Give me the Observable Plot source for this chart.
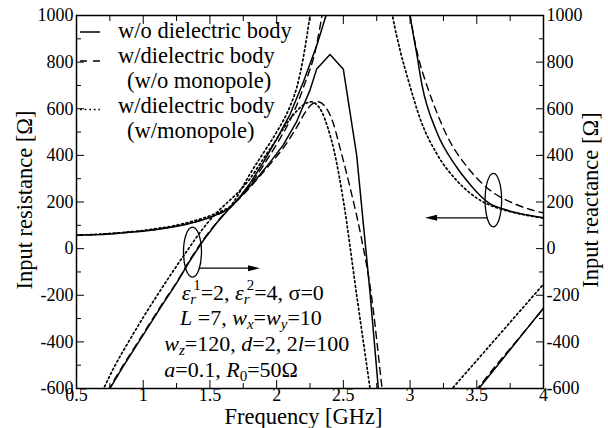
<!DOCTYPE html>
<html>
<head>
<meta charset="utf-8">
<script src="https://cdn.jsdelivr.net/npm/d3@7"></script>
<script src="https://cdn.jsdelivr.net/npm/@observablehq/plot@0.6"></script>
<style>
  html, body { margin: 0; padding: 0; background: #fff; }
  #chart { width: 608px; height: 428px; }
</style>
</head>
<body>
<div id="chart"></div>
<script>
// ---------- axis ticks ----------
const xTicks = [0.5, 1, 1.5, 2, 2.5, 3, 3.5, 4];
const xTickLabels = ["0.5", "1", "1.5", "2", "2.5", "3", "3.5", "4"];
const xMinor = [0.75, 1.25, 1.75, 2.25, 2.75, 3.25, 3.75];
const yTicks = [-600, -400, -200, 0, 200, 400, 600, 800, 1000];
const yTickLabels = ["-600", "-400", "-200", "0", "200", "400", "600", "800", "1000"];
const yMinor = [-500, -300, -100, 100, 300, 500, 700, 900];

// ---------- Input resistance (left axis) [GHz, Ohm] ----------
const resSolidA = [[0.5,57],[0.6,59],[0.7,61],[0.8,65],[0.9,70],[1.0,75],[1.1,82],[1.2,91],[1.3,101],[1.4,115],[1.5,133],[1.6,158],[1.65,175],[1.7,205],[1.8,280],[1.9,370],[2.0,470],[2.1,575],[2.2,715],[2.3,870],[2.37,1000],[2.42,1120]];
const resDashedA = [[0.5,57],[0.6,59],[0.7,62],[0.8,66],[0.9,71],[1.0,76],[1.1,83],[1.2,92],[1.3,102],[1.4,116],[1.5,134],[1.6,158],[1.65,176],[1.7,203],[1.8,272],[1.9,356],[2.0,448],[2.1,550],[2.2,690],[2.3,875],[2.34,1000],[2.38,1130]];
const resDottedA = [[0.5,58],[0.6,60],[0.7,63],[0.8,67],[0.9,72],[1.0,78],[1.1,86],[1.2,95],[1.3,107],[1.4,122],[1.5,141],[1.6,165],[1.65,180],[1.7,220],[1.75,270],[1.8,320],[1.9,410],[2.0,500],[2.1,610],[2.15,690],[2.2,820],[2.25,1000],[2.28,1120]];
const resSolidB = [[2.97,1120],[3.0,1000],[3.05,835],[3.09,700],[3.2,500],[3.35,349],[3.45,275],[3.53,225],[3.6,192],[3.7,170],[3.78,156],[3.9,142],[4.0,132]];
const resDashedB = [[2.97,1110],[3.0,1000],[3.05,850],[3.13,693],[3.2,585],[3.28,480],[3.43,349],[3.6,250],[3.78,193],[3.9,168],[4.0,153]];
const resDottedB = [[2.84,1090],[2.87,994],[2.93,840],[2.98,736],[3.08,550],[3.2,407],[3.35,292],[3.53,206],[3.65,175],[3.8,152],[4.0,131]];

// ---------- Input reactance (right axis) [GHz, Ohm] ----------
const reaSolidA = [[0.74,-610],[0.85,-505],[0.95,-415],[1.05,-325],[1.15,-235],[1.25,-148],[1.35,-52],[1.45,35],[1.55,110],[1.65,175],[1.75,235],[1.85,300],[1.95,370],[2.05,445],[2.15,545],[2.25,680],[2.3,770],[2.4,833],[2.5,769],[2.6,400],[2.7,-190],[2.8,-850]];
const reaDashedA = [[0.735,-610],[0.85,-500],[0.95,-410],[1.05,-320],[1.15,-230],[1.25,-145],[1.35,-48],[1.45,38],[1.55,112],[1.65,176],[1.75,232],[1.85,295],[1.95,362],[2.05,432],[2.15,520],[2.22,590],[2.27,622],[2.31,630],[2.36,612],[2.42,545],[2.48,421],[2.55,263],[2.63,60],[2.71,-200],[2.79,-600],[2.81,-700]];
const reaDottedA = [[0.695,-610],[0.79,-500],[0.89,-400],[1.0,-295],[1.105,-200],[1.22,-100],[1.34,0],[1.44,80],[1.54,148],[1.62,192],[1.7,235],[1.8,300],[1.9,385],[2.0,470],[2.08,540],[2.15,590],[2.21,620],[2.26,630],[2.3,618],[2.34,585],[2.38,525],[2.43,421],[2.5,206],[2.6,-200],[2.7,-600],[2.72,-680]];
const reaSolidB = [[3.5,-611],[3.6,-540],[3.7,-469],[3.8,-397],[3.9,-326],[4.0,-255]];
const reaDashedB = [[3.49,-612],[3.6,-532],[3.7,-462],[3.8,-395],[3.9,-326],[4.0,-256]];
const reaDottedB = [[3.3,-611],[3.4,-545],[3.5,-480],[3.6,-414],[3.7,-349],[3.8,-283],[3.9,-218],[4.0,-152]];

// ---------- text ----------
const legendLabels = ["w/o dielectric body", "w/dielectric body", "(w/o monopole)", "w/dielectric body", "(w/monopole)"];
const xTitle = "Frequency [GHz]";
const yLeftTitle = "Input resistance [Ω]";
const yRightTitle = "Input reactance [Ω]";

// ---------- build table ----------
const seriesList = [
  ["res-solid-a", "solid", "linear", resSolidA], ["res-dashed-a", "dashed", "monotone-x", resDashedA], ["res-dotted-a", "dotted", "monotone-x", resDottedA],
  ["res-solid-b", "solid", "monotone-x", resSolidB], ["res-dashed-b", "dashed", "monotone-x", resDashedB], ["res-dotted-b", "dotted", "monotone-x", resDottedB],
  ["rea-solid-a", "solid", "linear", reaSolidA], ["rea-dashed-a", "dashed", "monotone-x", reaDashedA], ["rea-dotted-a", "dotted", "monotone-x", reaDottedA],
  ["rea-solid-b", "solid", "linear", reaSolidB], ["rea-dashed-b", "dashed", "linear", reaDashedB], ["rea-dotted-b", "dotted", "linear", reaDottedB]
];
const dashOf = {solid: null, dashed: "7,5", dotted: "1.8,2.8"};
const widthOf = {solid: 1.5, dashed: 1.4, dotted: 1.7};

const lineMarks = seriesList.map(([id, style, curve, pts]) =>
  Plot.line(pts.map(([f, v]) => ({f, v, id})), {
    x: "f", y: "v", curve, stroke: "black",
    strokeWidth: widthOf[style], strokeDasharray: dashOf[style], clip: true
  })
);

const SERIF = "Liberation Serif";

function richText(g, px, py, segs, size) {
  const t = g.append("text").attr("x", px).attr("y", py)
    .attr("text-anchor", "start")
    .attr("font-size", size).attr("font-family", SERIF).attr("fill", "black");
  let shift = 0;
  for (const s of segs) {
    const sp = t.append("tspan").text(s.t);
    if (s.i) sp.attr("font-style", "italic");
    const target = s.sub ? 4 : s.sup ? -10 : 0;
    if (target !== shift) { sp.attr("dy", target - shift); shift = target; }
    if (s.sub || s.sup) sp.attr("font-size", Math.round(size * 0.68));
    if (s.dx) sp.attr("dx", s.dx);
  }
}

const annotLines = [
  {f: 1.292, v: -223, segs: [{t:"ε",i:1},{t:"r",i:1,sub:1},{t:"1",sup:1,dx:-3},{t:"=2, "},{t:"ε",i:1},{t:"r",i:1,sub:1},{t:"2",sup:1,dx:-3},{t:"=4, σ=0"}]},
  {f: 1.280, v: -331, segs: [{t:"L",i:1},{t:" =7, "},{t:"w",i:1},{t:"x",i:1,sub:1},{t:"="},{t:"w",i:1},{t:"y",i:1,sub:1},{t:"=10"}]},
  {f: 1.162, v: -442, segs: [{t:"w",i:1},{t:"z",i:1,sub:1},{t:"=120, "},{t:"d",i:1},{t:"=2, 2"},{t:"l",i:1},{t:"=100"}]},
  {f: 1.162, v: -554, segs: [{t:"a",i:1},{t:"=0.1, "},{t:"R",i:1},{t:"0",sub:1},{t:"=50Ω"}]}
];
const ellipses = [ {f: 1.373, v: -17, rf: 0.0675, rv: 107}, {f: 3.628, v: 206, rf: 0.062, rv: 115} ];
const arrows = [ {f1: 1.42, f2: 1.879, v: -86}, {f1: 3.581, f2: 3.116, v: 130} ];

function overlay(index, scales, values, dims) {
  const x = scales.x, y = scales.y;
  const g = d3.create("svg:g").attr("text-anchor", "start");
  const L = dims.marginLeft;
  const fsLegend = 22.5, fsNote = 22, fsTitle = 22.5;
  // legend samples
  const samples = [["solid", 32], ["dashed", 61], ["dotted", 109.5]];
  for (const [st, yy] of samples) {
    g.append("line").attr("x1", L + 4).attr("x2", L + 24).attr("y1", yy).attr("y2", yy)
      .attr("stroke", "black").attr("stroke-width", widthOf[st])
      .attr("stroke-dasharray", dashOf[st] === null ? null : (st === "dashed" ? "7,6" : dashOf[st]));
  }
  const legendPos = [[118, 38], [118, 63], [127, 87.5], [118, 113], [127, 137.5]];
  legendLabels.forEach((s, i) => {
    g.append("text").attr("x", legendPos[i][0]).attr("y", legendPos[i][1])
      .attr("text-anchor", "start")
      .attr("font-family", SERIF).attr("font-size", fsLegend).text(s);
  });
  // annotation
  for (const a of annotLines) richText(g, x(a.f), y(a.v), a.segs, fsNote);
  // ellipses
  for (const e of ellipses) {
    g.append("ellipse").attr("cx", x(e.f)).attr("cy", y(e.v))
      .attr("rx", Math.abs(x(e.f + e.rf) - x(e.f))).attr("ry", Math.abs(y(e.v + e.rv) - y(e.v)))
      .attr("fill", "none").attr("stroke", "black").attr("stroke-width", 1.3);
  }
  // arrows
  for (const a of arrows) {
    const x1 = x(a.f1), x2 = x(a.f2), yy = y(a.v);
    const dir = Math.sign(x2 - x1);
    g.append("line").attr("x1", x1).attr("x2", x2 - dir * 10).attr("y1", yy).attr("y2", yy)
      .attr("stroke", "black").attr("stroke-width", 1.3);
    g.append("path").attr("d", `M${x2},${yy}L${x2 - dir * 12},${yy - 3}L${x2 - dir * 12},${yy + 3}Z`).attr("fill", "black");
  }
  // axis titles
  g.append("text").attr("x", 303.5).attr("y", 424).attr("text-anchor", "middle")
    .attr("font-family", SERIF).attr("font-size", fsTitle).text(xTitle);
  g.append("text").attr("transform", "translate(32,200) rotate(-90)").attr("text-anchor", "middle")
    .attr("font-family", SERIF).attr("font-size", fsTitle).text(yLeftTitle);
  g.append("text").attr("transform", "translate(598,200) rotate(-90)").attr("text-anchor", "middle")
    .attr("font-family", SERIF).attr("font-size", fsTitle).text(yRightTitle);
  return g.node();
}

const fmtX = d => xTickLabels[xTicks.indexOf(d)] ?? "";
const fmtY = d => yTickLabels[yTicks.indexOf(d)] ?? "";
const blank = () => "";
const tickFont = {fontFamily: SERIF, fontSize: 18};

const chart = Plot.plot({
  width: 608,
  height: 428,
  marginLeft: 76,
  marginRight: 65,
  marginTop: 15,
  marginBottom: 40,
  style: {fontFamily: SERIF, fontSize: "18px", background: "white", color: "black"},
  x: {domain: [0.5, 4]},
  y: {domain: [-600, 1000]},
  marks: [
    ...lineMarks,
    Plot.frame({stroke: "black", strokeWidth: 1.5}),
    Plot.axisX({anchor: "bottom", ticks: xTicks, tickSize: -8, tickPadding: 8, tickFormat: fmtX, label: null, ...tickFont}),
    Plot.axisX({anchor: "bottom", ticks: xMinor, tickSize: -5, tickFormat: blank, label: null}),
    Plot.axisX({anchor: "top", ticks: xTicks, tickSize: -8, tickFormat: blank, label: null}),
    Plot.axisX({anchor: "top", ticks: xMinor, tickSize: -5, tickFormat: blank, label: null}),
    Plot.axisY({anchor: "left", ticks: yTicks, tickSize: -8, tickPadding: 11, tickFormat: fmtY, label: null, ...tickFont}),
    Plot.axisY({anchor: "left", ticks: yMinor, tickSize: -5, tickFormat: blank, label: null}),
    Plot.axisY({anchor: "right", ticks: yTicks, tickSize: -8, tickPadding: 11, tickFormat: fmtY, label: null, ...tickFont}),
    Plot.axisY({anchor: "right", ticks: yMinor, tickSize: -5, tickFormat: blank, label: null}),
    overlay
  ]
});
document.getElementById("chart").appendChild(chart);
</script>
</body>
</html>
